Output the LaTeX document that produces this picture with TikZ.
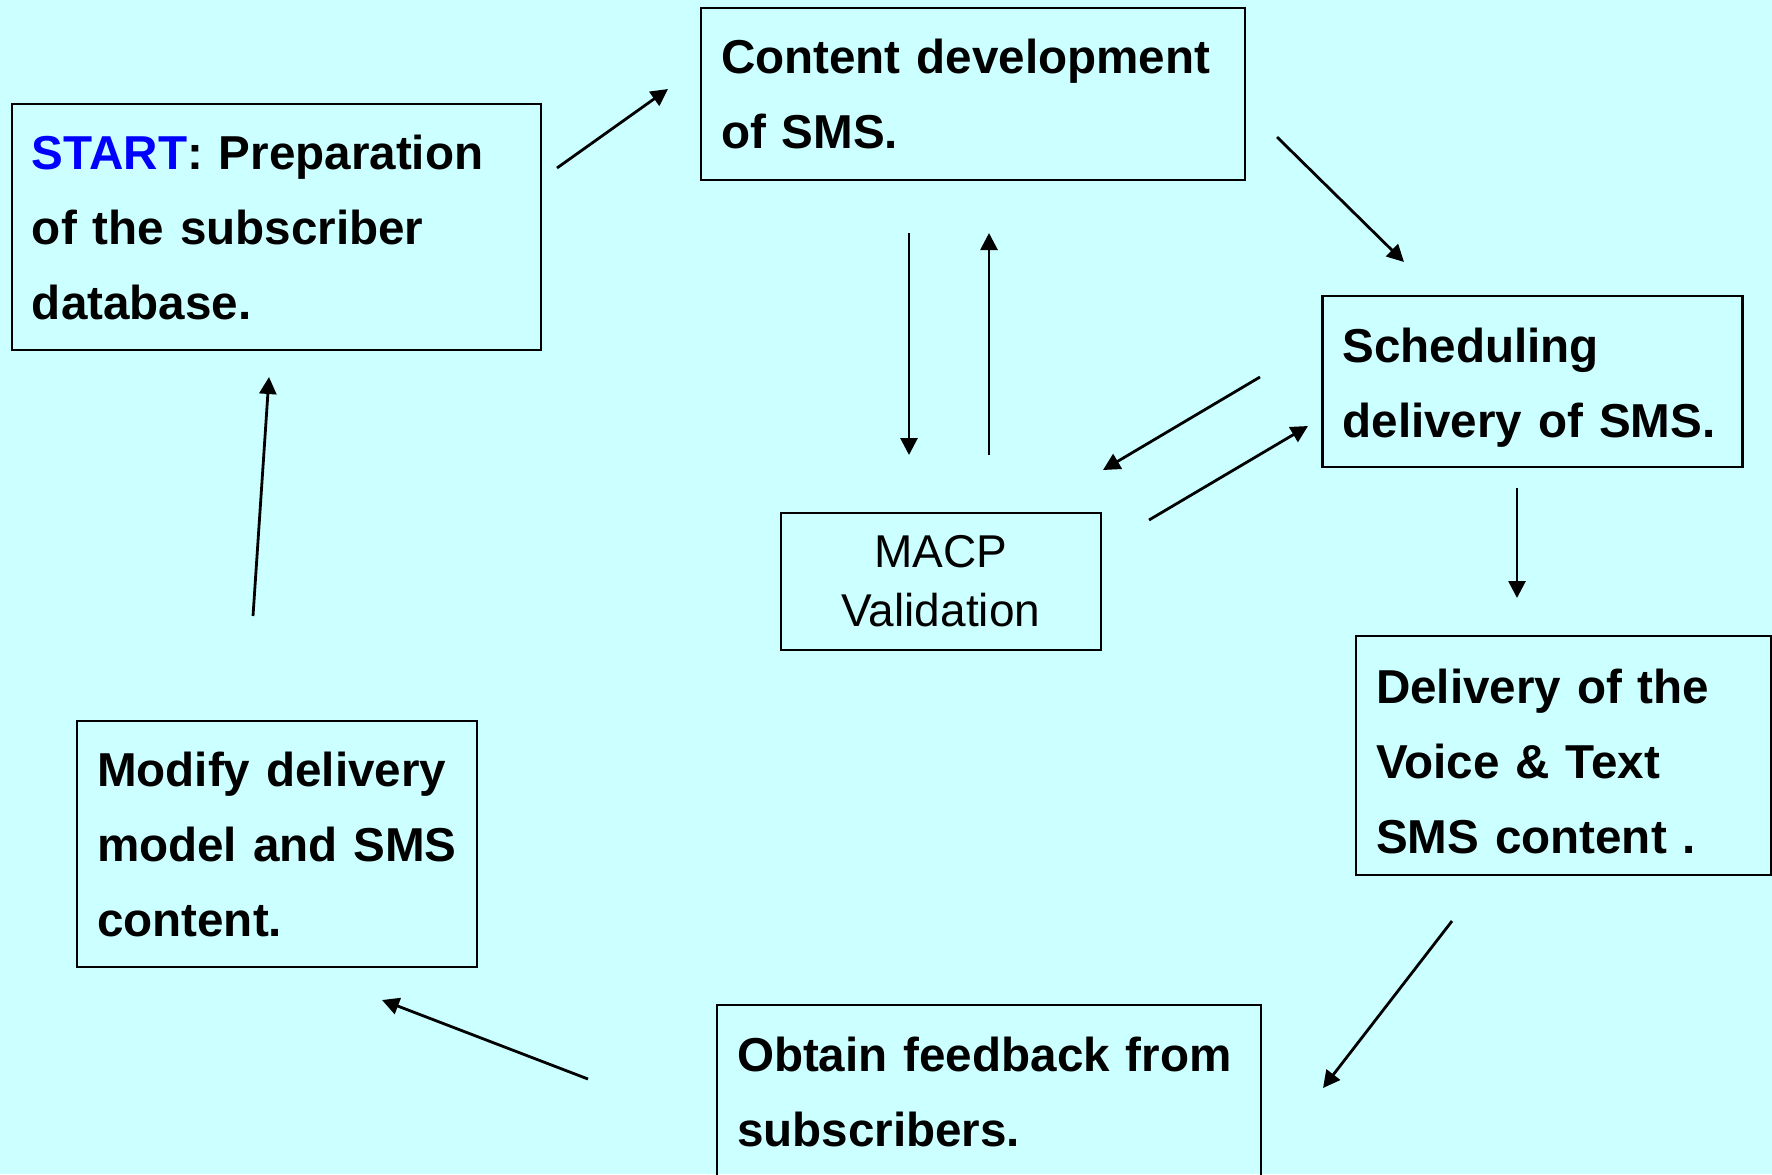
\documentclass[tikz,border=0pt]{standalone}
\usepackage{fontspec}
\setmainfont{Liberation Sans}
\usetikzlibrary{arrows.meta}
\definecolor{bgcyan}{RGB}{204,255,255}
\definecolor{startblue}{RGB}{0,0,255}
\tikzset{
  stepbox/.style={draw=black, line width=1.1pt, rectangle, inner xsep=10pt, inner ysep=0pt,
    align=left, font=\fontsize{23.8pt}{37.5pt}\selectfont\bfseries},
  macpbox/.style={draw=black, line width=1.1pt, rectangle, align=center,
    font=\fontsize{23pt}{29.5pt}\selectfont},
  flow/.style={line width=1.4pt, -{Triangle[length=8.5pt,width=8.5pt]}}
}
\begin{document}
\begin{tikzpicture}[x=0.5pt, y=-0.5pt]
\fill[bgcyan] (0,0) rectangle (1772,1174);
\useasboundingbox (0,0) rectangle (1772,1174);
\clip (0,0) rectangle (1772,1174);

\node[stepbox, minimum width=264.5pt, minimum height=123pt, text width=244.5pt] (start) at (276.5,227)
  {\textcolor{startblue}{START}: Preparation\\of the subscriber\\database.};
\node[stepbox, minimum width=272pt, minimum height=86pt, text width=252pt] (content) at (973,94)
  {Content development\\of SMS.};
\node[stepbox, minimum width=208.5pt, minimum height=85.5pt, text width=190pt] (sched) at (1532.5,381.5)
  {\rule{0pt}{23.5pt}Scheduling\\delivery of SMS.};
\node[macpbox, minimum width=160pt, minimum height=68.5pt] (macp) at (941,581.5)
  {MACP\\Validation};
\node[stepbox, minimum width=207.5pt, minimum height=119.5pt, text width=187.5pt] (deliv) at (1563.5,755.5)
  {\rule{0pt}{23.5pt}Delivery of the\\Voice \& Text\\SMS content .};
\node[stepbox, minimum width=272pt, minimum height=87pt, text width=252pt] (obtain) at (989,1092)
  {Obtain feedback from\\subscribers.};
\node[stepbox, minimum width=200pt, minimum height=123pt, text width=180pt] (modify) at (277,844)
  {Modify delivery\\model and SMS\\content.};

% connector end points
\coordinate (a1s) at (557,168);  \coordinate (a1e) at (668,89);
\coordinate (a2s) at (1277,137); \coordinate (a2e) at (1404,262);
\coordinate (a3s) at (909,233);  \coordinate (a3e) at (909,455);
\coordinate (a4s) at (989,455);  \coordinate (a4e) at (989,233);
\coordinate (a5s) at (1260,377); \coordinate (a5e) at (1103,470);
\coordinate (a6s) at (1149,520); \coordinate (a6e) at (1308,426);
\coordinate (a7s) at (1517,488); \coordinate (a7e) at (1517,598);
\coordinate (a8s) at (1452,921); \coordinate (a8e) at (1323,1088);
\coordinate (a9s) at (588,1079); \coordinate (a9e) at (382,1000);
\coordinate (a10s) at (253,616); \coordinate (a10e) at (269,377);

\draw[flow] (a1s) -- (a1e);
\draw[flow] (a2s) -- (a2e);
\draw[flow] (a3s) -- (a3e);
\draw[flow] (a4s) -- (a4e);
\draw[flow] (a5s) -- (a5e);
\draw[flow] (a6s) -- (a6e);
\draw[flow] (a7s) -- (a7e);
\draw[flow] (a8s) -- (a8e);
\draw[flow] (a9s) -- (a9e);
\draw[flow] (a10s) -- (a10e);
\end{tikzpicture}
\end{document}
